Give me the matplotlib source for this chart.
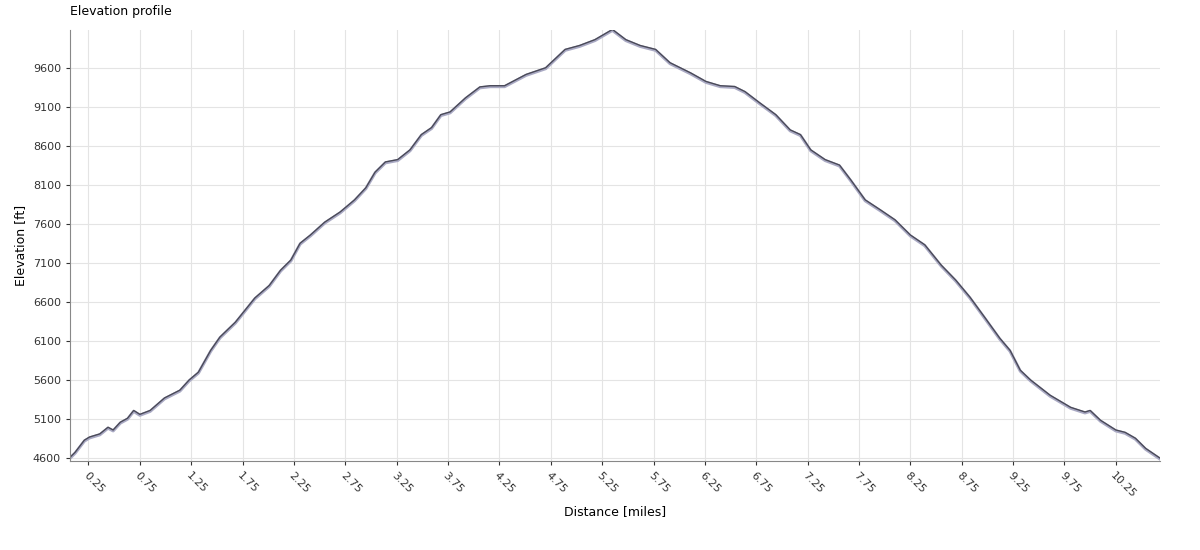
import matplotlib
matplotlib.use("Agg")
import matplotlib.pyplot as plt
import numpy as np

dist = [0.07,0.12,0.21,0.26,0.36,0.44,0.49,0.56,0.63,0.69,0.75,0.85,0.99,1.14,1.23,1.32,1.44,1.53,1.68,1.87,2.01,2.12,2.22,2.31,2.41,2.55,2.70,2.84,2.95,3.04,3.14,3.26,3.38,3.49,3.59,3.68,3.77,3.92,4.06,4.16,4.30,4.51,4.70,4.89,5.03,5.18,5.35,5.48,5.62,5.77,5.91,6.11,6.26,6.40,6.54,6.64,6.78,6.94,7.08,7.18,7.28,7.42,7.56,7.67,7.81,7.96,8.10,8.25,8.39,8.55,8.69,8.83,8.98,9.12,9.22,9.32,9.42,9.61,9.81,9.95,10.00,10.10,10.25,10.34,10.44,10.54,10.68]
elev = [4600,4665,4820,4860,4900,4985,4950,5050,5100,5200,5150,5200,5360,5460,5590,5690,5970,6140,6330,6640,6800,6995,7125,7340,7445,7610,7740,7895,8050,8250,8380,8410,8535,8730,8820,8985,9020,9200,9340,9355,9355,9500,9585,9820,9870,9945,10075,9945,9870,9820,9650,9520,9410,9355,9345,9280,9140,8985,8790,8730,8535,8410,8340,8150,7895,7765,7640,7445,7320,7060,6870,6650,6380,6125,5970,5715,5590,5395,5240,5180,5200,5075,4950,4920,4845,4715,4590]
xticks = np.arange(0.25, 10.26, 0.5)
yticks = list(range(4600, 9601, 500))

fig = plt.figure(figsize=(12, 5.5), dpi=100)
ax = fig.add_axes([70/1200, 89/550, 1090/1200, 431/550])
ax.plot(dist, elev, color="#aaaac4", lw=2.2, solid_joinstyle="round")
ax.plot(dist, np.array(elev) + 12, color="#4a4a58", lw=1.0)
ax.set_xlim(0.07, 10.68)
ax.set_ylim(4565, 10080)
ax.set_xticks(xticks)
ax.set_xticklabels([f"{t:.2f}" for t in xticks], rotation=-45, ha="left", rotation_mode="anchor", fontsize=8)
ax.set_yticks(yticks)
ax.set_yticklabels([str(t) for t in yticks], fontsize=8)
ax.grid(True, color="#e4e4e4", lw=0.8)
ax.set_axisbelow(True)
for s in ["top", "right"]:
    ax.spines[s].set_visible(False)
ax.spines["left"].set_color("#888888")
ax.spines["bottom"].set_color("#888888")
ax.tick_params(length=3, colors="#333333")
ax.set_xlabel("Distance [miles]", fontsize=9)
ax.set_ylabel("Elevation [ft]", fontsize=9)
fig.text(70/1200, 1 - 12/550, "Elevation profile", fontsize=9, va="center", ha="left")
fig.savefig("out.png")
